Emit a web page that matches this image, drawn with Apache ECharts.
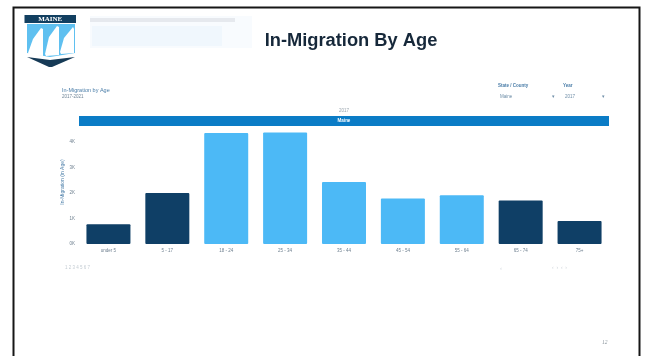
<!DOCTYPE html>
<html><head><meta charset="utf-8">
<style>html,body{margin:0;padding:0;background:#fff}#c{width:645px;height:356px;filter:blur(0.55px)}</style>
<script src="https://cdn.jsdelivr.net/npm/echarts@6/dist/echarts.min.js"></script>
</head><body><div id="c"></div>
<script>
const categories = ['under 5','5 - 17','18 - 24','25 - 34','35 - 44','45 - 54','55 - 64','65 - 74','75+'];
const values = [0.77,2.0,4.34,4.36,2.43,1.78,1.91,1.70,0.90];
const darkFlags = [1,1,0,0,0,0,0,1,1];
const tickLabels = ['0K','1K','2K','3K','4K'];
const DARK='#0f3f66', LIGHT='#4cb9f6', HEAD='#0b7cc6', INK='#16283a', SOFT='#4a7da8';
const chart = echarts.init(document.getElementById('c'),null,{renderer:'canvas'});
const poly=(pts,fill,z)=>({type:'polygon',shape:{points:pts},style:{fill},z:z||5});
const txt=(x,y,text,font,fill,align,extra)=>({type:'text',x,y,style:Object.assign({text,font,fill,align:align||'left',verticalAlign:'middle'},extra||{}),z:6});
chart.setOption({
  animation:false,
  backgroundColor:'#fff',
  grid:{left:79,right:36,top:129,bottom:112},
  xAxis:{type:'category',data:categories,axisLine:{show:false},axisTick:{show:false},
    axisLabel:{fontSize:4.5,color:'#6f8090',margin:4,interval:0,fontFamily:'Liberation Sans'}},
  yAxis:{type:'value',min:0,max:4.5,interval:1,splitLine:{show:false},axisLine:{show:false},axisTick:{show:false},
    axisLabel:{fontSize:4.5,color:'#6f8090',margin:4,fontFamily:'Liberation Sans',
      formatter:(v)=>tickLabels[v]!==undefined?tickLabels[v]:''}},
  series:[{type:'bar',barWidth:44,
    data:values.map((v,i)=>({value:v,itemStyle:{color:darkFlags[i]?DARK:LIGHT,borderRadius:1}}))}],
  graphic:[
    {type:'rect',shape:{x:13.5,y:7.5,width:626,height:360},style:{fill:'none',stroke:'#161616',lineWidth:2},z:4},
    // faded header remnants
    {type:'rect',shape:{x:90,y:16,width:162,height:32},style:{fill:'#f8fbfe'},z:1},
    {type:'rect',shape:{x:90,y:18,width:145,height:4},style:{fill:'#e6e9ee'},z:2},
    {type:'rect',shape:{x:92,y:26,width:130,height:20},style:{fill:'#f0f7fd'},z:2},
    // logo
    {type:'rect',shape:{x:24.5,y:15,width:51.5,height:8},style:{fill:'#123f60'},z:5},
    txt(50.2,19.2,'MAINE','bold 7px "Liberation Serif"','#ffffff','center',{letterSpacing:2}),
    poly([[27,24],[75,24],[75,53],[50,57],[27,53]],'#5fc0f0',4),
    poly([[28,53],[33,39],[41,28],[43,29],[43,56],[29,55]],'#ffffff'),
    poly([[45,54],[49,37],[57,26],[59,27],[59,55],[46,56]],'#ffffff'),
    poly([[60,52],[64,38],[73,27],[74,29],[74,53],[61,54]],'#ffffff'),
    poly([[27,57],[50,60],[75,57],[52,67],[49,67]],'#163a56'),
    // chart title
    txt(351,40.5,'In-Migration By Age','bold 18.3px "Liberation Sans"',INK,'center'),
    txt(62,90,'In-Migration by Age','5.5px "Liberation Sans"',SOFT),
    txt(62,96.5,'2017-2021','4.5px "Liberation Sans"','#6f8496'),
    // y axis title
    {type:'text',x:63,y:182,rotation:Math.PI/2,style:{text:'In-Migration (in Age)',font:'5px "Liberation Sans"',fill:SOFT,align:'center',verticalAlign:'middle'},z:6},
    // filter controls
    txt(498,86,'State / County','bold 4.5px "Liberation Sans"',SOFT),
    txt(563,86,'Year','bold 4.5px "Liberation Sans"',SOFT),
    txt(500,96.5,'Maine','4.5px "Liberation Sans"','#6f8ea8'),
    txt(552,96.5,'\u25BE','5px "Liberation Sans"','#6f8ea8'),
    txt(565,96.5,'2017','4.5px "Liberation Sans"','#6f8ea8'),
    txt(602,96.5,'\u25BE','5px "Liberation Sans"','#6f8ea8'),
    // facet header
    txt(344,111,'2017','4.5px "Liberation Sans"','#9aa5ae','center'),
    {type:'rect',shape:{x:79,y:116,width:530,height:10},style:{fill:HEAD},z:3},
    txt(344,121,'Maine','bold 4.5px "Liberation Sans"','#ffffff','center'),
    // faint footer
    txt(65,268,'1 2 3 4 5 6 7','4.5px "Liberation Sans"','#c4ccd3'),
    txt(500,268,'\u2039','6px "Liberation Sans"','#d0d6dc'),
    txt(552,268,'\u2039  \u203A  \u2039  \u203A','5px "Liberation Sans"','#cdd3d9'),
    txt(602,343,'12','italic 5.5px "Liberation Serif"','#8a949c')
  ]
});
</script></body></html>
